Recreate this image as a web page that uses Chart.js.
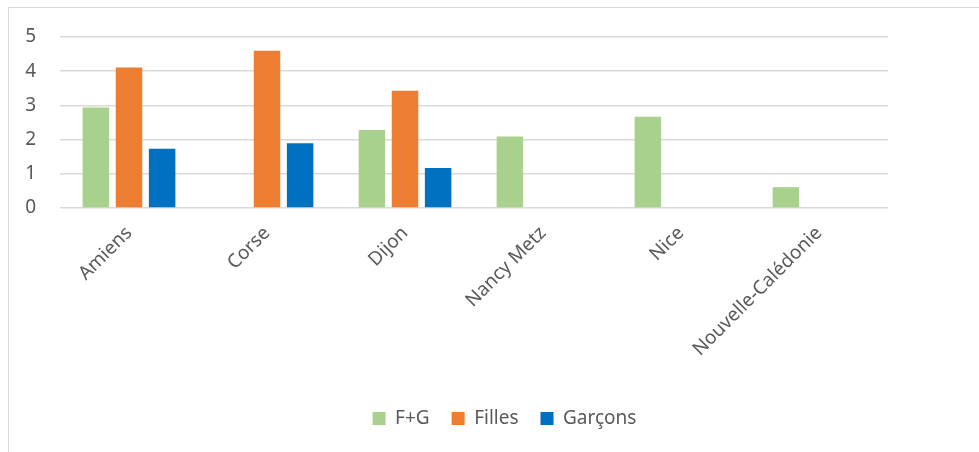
<!DOCTYPE html>
<html>
<head>
<meta charset="utf-8">
<script src="https://cdn.jsdelivr.net/npm/chart.js@4.4.0/dist/chart.umd.min.js"></script>
<style>
  body { margin: 0; background: #fff; overflow: hidden; }
  #frame { position: absolute; left: 8px; top: 7px; width: 1000px; height: 500px; border: 1px solid #d9d9d9; }
  #wrap { position: absolute; left: 0; top: 0; width: 1009px; height: 452px; }
</style>
</head>
<body>
<div id="frame"></div>
<div id="wrap"><canvas id="barChart"></canvas></div>
<script>
  // Data
  const categories = ['Amiens', 'Corse', 'Dijon', 'Nancy Metz', 'Nice', 'Nouvelle-Calédonie'];
  const fgValues = [2.94, null, 2.28, 2.09, 2.67, 0.61];
  const fillesValues = [4.11, 4.6, 3.43, null, null, null];
  const garconsValues = [1.73, 1.89, 1.17, null, null, null];
  const yTicks = [0, 1, 2, 3, 4, 5];

  const textColor = '#595959';
  const font = { family: "'Noto Sans', sans-serif", size: 19 };

  // Bar Chart
  const ctxBar = document.getElementById('barChart').getContext('2d');
  new Chart(ctxBar, {
    type: 'bar',
    data: {
      labels: categories,
      datasets: [
        { label: 'F+G', data: fgValues, backgroundColor: '#a9d18e' },
        { label: 'Filles', data: fillesValues, backgroundColor: '#ed7d31' },
        { label: 'Garçons', data: garconsValues, backgroundColor: '#0070c0' }
      ]
    },
    options: {
      responsive: true,
      maintainAspectRatio: false,
      animation: false,
      categoryPercentage: 0.72,
      barPercentage: 0.8,
      layout: { padding: { left: 0, right: 0, top: 37, bottom: 14 } },
      scales: {
        y: {
          min: 0,
          max: 5,
          afterFit: (scale) => { scale.width = 60; },
          afterBuildTicks: (scale) => { scale.ticks = yTicks.map(v => ({ value: v })); },
          border: { display: false },
          grid: { color: '#d9d9d9', lineWidth: 1.5, drawTicks: false },
          ticks: { color: textColor, font: font, padding: 24 }
        },
        // empty right margin (canvas is wider than the window so the legend centres like the original)
        yr: {
          position: 'right',
          afterFit: (scale) => { scale.width = 121; },
          border: { display: false },
          grid: { display: false },
          ticks: { display: false }
        },
        x: {
          border: { display: false },
          grid: { display: false },
          afterFit: (scale) => { scale.height = 179; },
          ticks: { color: textColor, font: font, minRotation: 45, maxRotation: 45, padding: 6 }
        }
      },
      plugins: {
        legend: {
          display: true,
          position: 'bottom',
          labels: { color: textColor, font: font, boxWidth: 13, boxHeight: 13, padding: 22 }
        },
        tooltip: { enabled: false }
      }
    }
  });
</script>
</body>
</html>
